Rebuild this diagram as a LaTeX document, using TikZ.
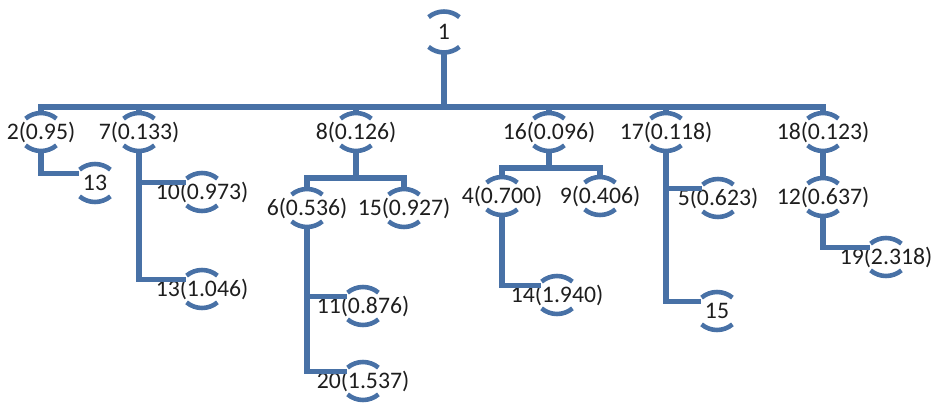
\documentclass[tikz,border=0pt]{standalone}
\usepackage{fontspec}
\setmainfont{Carlito}
\usepackage{tikz}
\definecolor{treeblue}{RGB}{72,113,166}
\definecolor{labelgray}{RGB}{30,30,30}

\begin{document}
\begin{tikzpicture}[x=0.02cm, y=-0.02cm,
    station/.style={shape=circle, minimum size=0.76cm, inner sep=0pt, outer sep=0pt},
    every label/.style={font=\fontsize{13.5}{16}\selectfont, text=labelgray, inner sep=0pt},
    bus/.style={draw=treeblue, line width=3pt},
    rim/.style={draw=treeblue, line width=2.6pt}]
    \useasboundingbox (0,0) rectangle (933,405);

    \node[station, minimum size=0.82cm, label={center:1}] (1) at (444,32) {};
    \node[station, label={center:2(0.95)}] (2) at (41,132) {};
    \node[station, label={center:7(0.133)}] (7) at (139,132) {};
    \node[station, label={center:8(0.126)}] (8) at (356,132) {};
    \node[station, label={center:16(0.096)}] (16) at (549,132) {};
    \node[station, label={center:17(0.118)}] (17) at (666,132) {};
    \node[station, label={center:18(0.123)}] (18) at (823,132) {};
    \node[station, label={center:13}] (13a) at (95,183) {};
    \node[station, label={center:10(0.973)}] (10) at (202,192) {};
    \node[station, label={center:13(1.046)}] (13b) at (202,289) {};
    \node[station, label={center:6(0.536)}] (6) at (307,208) {};
    \node[station, label={center:15(0.927)}] (15a) at (404,208) {};
    \node[station, label={center:11(0.876)}] (11) at (363,306) {};
    \node[station, label={center:20(1.537)}] (20) at (363,381) {};
    \node[station, label={center:4(0.700)}] (4) at (502,196) {};
    \node[station, label={center:9(0.406)}] (9) at (600,196) {};
    \node[station, label={center:14(1.940)}] (14) at (557,295) {};
    \node[station, label={center:5(0.623)}] (5) at (718,198) {};
    \node[station, label={center:15}] (15b) at (717,311) {};
    \node[station, label={center:12(0.637)}] (12) at (823,197) {};
    \node[station, label={center:19(2.318)}] (19) at (886,257) {};

    \coordinate (trunk) at (444,107);
    \coordinate (fork8) at (356,178);
    \coordinate (fork16) at (549,168);

    % top level
    \draw[bus] (1.south) -- (trunk);
    \draw[bus] (2.north) |- (trunk) -| (18.north);
    \foreach \k in {7,8,16,17}
        \draw[bus] (\k.north) -- (\k.north |- trunk);

    % branches
    \draw[bus] (2.south) |- (13a.150);
    \draw[bus] (7.south) |- (10.150);
    \draw[bus] (7.south) |- (13b.150);
    \draw[bus] (8.south) -- (fork8);
    \draw[bus] (6.north) |- (fork8) -| (15a.north);
    \draw[bus] (6.south) |- (11.150);
    \draw[bus] (6.south) |- (20.150);
    \draw[bus] (16.south) -- (fork16);
    \draw[bus] (4.north) |- (fork16) -| (9.north);
    \draw[bus] (4.south) |- (14.150);
    \draw[bus] (17.south) |- (5.150);
    \draw[bus] (17.south) |- (15b.150);
    \draw[bus] (18.south) -- (12.north);
    \draw[bus] (12.south) |- (19.150);

    % flat arcs above and below every station
    \foreach \n in {1,2,7,8,16,17,18,13a,10,13b,6,15a,11,20,4,9,14,5,15b,12,19} {
        \draw[rim] ([yshift=-0.48cm]\n.north) ++(50:0.48cm) arc[start angle=50, end angle=130, radius=0.48cm];
        \draw[rim] ([yshift=0.48cm]\n.south) ++(230:0.48cm) arc[start angle=230, end angle=310, radius=0.48cm];
    }
\end{tikzpicture}
\end{document}
